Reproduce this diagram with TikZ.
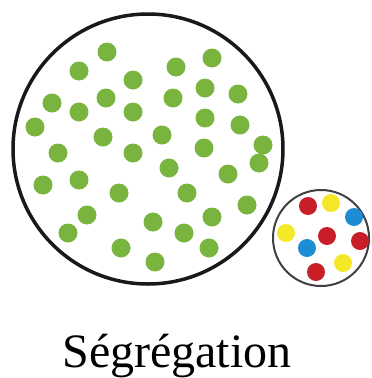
\documentclass[tikz,border=0pt]{standalone}
\usepackage{fontspec}
\setmainfont{Liberation Serif}
\definecolor{dotgreen}{RGB}{120,180,62}
\definecolor{dotred}{RGB}{200,30,40}
\definecolor{dotyellow}{RGB}{245,232,40}
\definecolor{dotblue}{RGB}{30,140,210}
\begin{document}
\begin{tikzpicture}[x=1pt,y=-1pt,
  gdot/.style={fill=dotgreen},
  rdot/.style={fill=dotred},
  ydot/.style={fill=dotyellow},
  bdot/.style={fill=dotblue}]
\useasboundingbox (0,0) rectangle (372,378);
% big circle
\draw[line width=3.5pt, black!90] (148,149) circle (135);
\foreach \x/\y in {107/52,79/71,133/80,176/67,212/58,52/103,79/112,106/98,133/112,173/98,205/88,238/94,35/127,103/137,162/135,205/118,240/125,58/153,133/153,204/148,263/145,259/163,169/168,43/185,79/180,119/193,187/193,228/174,87/215,247/205,68/233,153/222,212/217,184/233,121/248,155/262,209/248}
  \fill[gdot] (\x,\y) circle (9.5);
% small circle
\draw[line width=2pt, black!75] (321,238) circle (48);
\fill[rdot] (308,206) circle (9);
\fill[ydot] (331,203) circle (9);
\fill[bdot] (354,217) circle (9);
\fill[ydot] (286,233) circle (9);
\fill[rdot] (327,236) circle (9);
\fill[rdot] (360,241) circle (9);
\fill[bdot] (307,248) circle (9);
\fill[ydot] (343,263) circle (9);
\fill[rdot] (316,272) circle (9);
\node[anchor=base, inner sep=0pt, font=\fontsize{48}{50}\selectfont] (label) at (177,367) {Ségrégation};
\end{tikzpicture}
\end{document}
